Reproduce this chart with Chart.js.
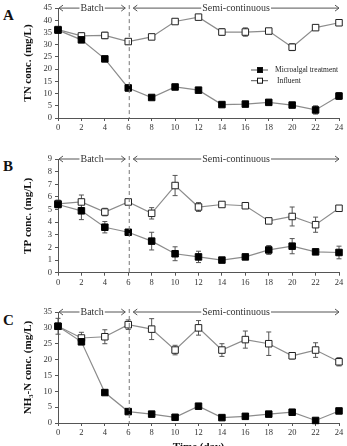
<!DOCTYPE html>
<html>
<head>
<meta charset="utf-8">
<script src="https://cdn.jsdelivr.net/npm/chart.js@4.4.1/dist/chart.umd.min.js"></script>
<style>
html, body { margin: 0; padding: 0; width: 347px; height: 446px; overflow: hidden; background: #fff; }
.panel { position: absolute; left: 0; width: 347px; }
.letter { position: absolute; left: 3px; font: bold 15px "Liberation Serif", serif; color: #111; }
</style>
</head>
<body>
<div class="letter" style="top:7px">A</div>
<div class="letter" style="top:158px">B</div>
<div class="letter" style="top:312px">C</div>
<div class="panel" style="top:0px"><canvas id="tn" width="347" height="140"></canvas></div>
<div class="panel" style="top:148px"><canvas id="tp" width="347" height="140"></canvas></div>
<div class="panel" style="top:295px"><canvas id="nh" width="347" height="160"></canvas></div>
<script>
// sampling days
const days = [0, 2, 4, 6, 8, 10, 12, 14, 16, 18, 20, 22, 24]

// phases of the run
const phaseNames = ['Batch', 'Semi-continuous']
const phaseBounds = [0, 6, 24]

// TN (mg/L)
const tnMicro = [36, 32, 24.2, 12.3, 8.4, 12.7, 11.4, 5.5, 5.7, 6.4, 5.3, 3.3, 9.0]
const tnMicroErr = [0.5, 0.8, 0.5, 1.2, 0.5, 0.6, 0.8, 0.5, 0.5, 0.9, 0.6, 1.7, 1.4]
const tnInfl = [36.2, 33.6, 33.8, 31.3, 33.2, 39.5, 41.3, 35.2, 35.2, 35.6, 29.0, 37.0, 39.0]
const tnInflErr = [0.5, 1.2, 1.3, 1.0, 0.5, 0.5, 0.8, 1.3, 1.7, 0.5, 1.4, 0.5, 0.5]

// TP (mg/L)
const tpMicro = [5.4, 4.9, 3.6, 3.2, 2.5, 1.5, 1.25, 1.0, 1.25, 1.8, 2.1, 1.65, 1.6]
const tpMicroErr = [0.1, 0.7, 0.45, 0.08, 0.7, 0.55, 0.45, 0.05, 0.08, 0.35, 0.6, 0.1, 0.5]
const tpInfl = [5.45, 5.6, 4.8, 5.6, 4.7, 6.9, 5.2, 5.4, 5.3, 4.1, 4.45, 3.8, 5.1]
const tpInflErr = [0.3, 0.55, 0.3, 0.2, 0.45, 0.8, 0.35, 0.05, 0.2, 0.15, 0.75, 0.6, 0.2]

// NH3-N (mg/L)
const nhMicro = [30.5, 25.6, 9.6, 3.6, 2.8, 1.8, 5.3, 1.7, 2.1, 2.8, 3.4, 0.8, 3.8]
const nhMicroErr = [0.5, 0.5, 0.7, 0.5, 0.3, 0.3, 0.3, 0.3, 0.8, 0.5, 0.3, 0.3, 0.3]
const nhInfl = [30.5, 26.8, 27.2, 31.0, 29.6, 23.0, 30.0, 23.0, 26.3, 25.0, 21.2, 23.0, 19.3]
const nhInflErr = [2.5, 1.8, 2.2, 1.5, 3.3, 1.5, 2.3, 2.0, 2.7, 3.7, 1.0, 2.3, 1.3]

const seriesNames = ['Microalgal treatment', 'Influent']

const FONT = '"Liberation Serif", "Times New Roman", serif'

// draws symmetric error bars under the markers
const errorBars = {
    id: 'errorBars',
    beforeDatasetsDraw(chart) {
        const ctx = chart.ctx
        const y = chart.scales.y
        ctx.save()
        ctx.strokeStyle = '#555'
        ctx.lineWidth = 1
        chart.data.datasets.forEach((ds, i) => {
            const meta = chart.getDatasetMeta(i)
            meta.data.forEach((pt, j) => {
                const v = ds.data[j].y, e = ds.errors[j]
                const top = y.getPixelForValue(v + e), bot = y.getPixelForValue(v - e)
                ctx.beginPath()
                ctx.moveTo(pt.x, top); ctx.lineTo(pt.x, bot)
                ctx.moveTo(pt.x - 2.5, top); ctx.lineTo(pt.x + 2.5, top)
                ctx.moveTo(pt.x - 2.5, bot); ctx.lineTo(pt.x + 2.5, bot)
                ctx.stroke()
            })
        })
        ctx.restore()
    }
}

// batch / semi-continuous arrows and dashed divider
const phases = {
    id: 'phases',
    afterDraw(chart) {
        const ctx = chart.ctx
        const x = chart.scales.x
        const area = chart.chartArea
        const yl = area.top
        ctx.save()
        ctx.strokeStyle = '#777'
        ctx.lineWidth = 1
        ctx.setLineDash([4, 3])
        const xd = x.getPixelForValue(phaseBounds[1]) + 1
        ctx.beginPath(); ctx.moveTo(xd, yl - 3); ctx.lineTo(xd, area.bottom); ctx.stroke()
        ctx.setLineDash([])
        ctx.strokeStyle = '#555'
        ctx.font = '10px ' + FONT
        ctx.textAlign = 'center'
        ctx.textBaseline = 'middle'
        for (let i = 0; i < phaseNames.length; i++) {
            const x0 = x.getPixelForValue(phaseBounds[i]) + (i ? 5 : 1)
            const x1 = x.getPixelForValue(phaseBounds[i + 1]) - (i ? 0 : 3)
            ctx.beginPath()
            ctx.moveTo(x0, yl); ctx.lineTo(x1, yl)
            ctx.moveTo(x0 + 4, yl - 3); ctx.lineTo(x0, yl); ctx.lineTo(x0 + 4, yl + 3)
            ctx.moveTo(x1 - 4, yl - 3); ctx.lineTo(x1, yl); ctx.lineTo(x1 - 4, yl + 3)
            ctx.stroke()
            const xc = (x0 + x1) / 2
            const w = ctx.measureText(phaseNames[i]).width
            ctx.fillStyle = '#fff'
            ctx.fillRect(xc - w / 2 - 1, yl - 5, w + 2, 10)
            ctx.fillStyle = '#333'
            ctx.fillText(phaseNames[i], xc, yl + 0.5)
        }
        ctx.restore()
    }
}

// legend drawn inside panel A
const innerLegend = {
    id: 'innerLegend',
    afterDraw(chart, args, opts) {
        if (!opts.show) return
        const ctx = chart.ctx
        ctx.save()
        ctx.font = '7.5px ' + FONT
        ctx.textBaseline = 'middle'
        chart.data.datasets.forEach((ds, i) => {
            const yy = 70 + i * 10.7
            ctx.strokeStyle = '#555'
            ctx.lineWidth = 1
            ctx.beginPath(); ctx.moveTo(251, yy); ctx.lineTo(268, yy); ctx.stroke()
            ctx.fillStyle = ds.pointBackgroundColor
            ctx.fillRect(257, yy - 3, 6, 6)
            ctx.strokeStyle = '#111'
            ctx.strokeRect(257.5, yy - 2.5, 5, 5)
            ctx.fillStyle = '#222'
            ctx.fillText(ds.label, 275 + (i ? 2 : 0), yy)
        })
        ctx.restore()
    }
}

function makePanel(id, yTitle, yMax, yStep, micro, microErr, infl, inflErr, padTop, xHeight, legend, xTitle) {
    const pts = vals => vals.map((v, i) => ({ x: days[i], y: v }))
    return new Chart(document.getElementById(id), {
        type: 'line',
        data: {
            datasets: [
                {
                    label: seriesNames[0],
                    data: pts(micro),
                    errors: microErr,
                    borderColor: '#8c8c8c',
                    borderWidth: 1.2,
                    pointStyle: 'rect',
                    pointRadius: 4.6,
                    pointBackgroundColor: '#000',
                    pointBorderColor: '#000',
                    pointBorderWidth: 1,
                    tension: 0,
                    clip: false
                },
                {
                    label: seriesNames[1],
                    data: pts(infl),
                    errors: inflErr,
                    borderColor: '#8c8c8c',
                    borderWidth: 1.2,
                    pointStyle: 'rect',
                    pointRadius: 4.6,
                    pointBackgroundColor: '#fff',
                    pointBorderColor: '#222',
                    pointBorderWidth: 1,
                    tension: 0,
                    clip: false
                }
            ]
        },
        options: {
            responsive: false,
            animation: false,
            layout: { padding: { top: padTop, left: 18, right: 8, bottom: 0 } },
            plugins: {
                legend: { display: false },
                tooltip: { enabled: false },
                innerLegend: { show: legend }
            },
            scales: {
                x: {
                    type: 'linear',
                    min: 0,
                    max: 24,
                    ticks: { stepSize: 2, autoSkip: false, maxRotation: 0, color: '#333', padding: 2, font: { family: FONT, size: 8.5 } },
                    grid: { drawOnChartArea: false, tickLength: 3, color: '#555' },
                    border: { color: '#555' },
                    title: {
                        display: !!xTitle,
                        text: xTitle || '',
                        color: '#111',
                        padding: { top: 0, bottom: 1.4 },
                        font: { family: FONT, size: 11, weight: 'bold' }
                    },
                    afterFit: s => { s.height = xHeight }
                },
                y: {
                    min: 0,
                    max: yMax,
                    ticks: { stepSize: yStep, autoSkip: false, color: '#333', padding: 3, font: { family: FONT, size: 8.5 } },
                    grid: { drawOnChartArea: false, tickLength: 3, color: '#555' },
                    border: { color: '#555' },
                    title: {
                        display: true,
                        text: yTitle,
                        color: '#111',
                        font: { family: FONT, size: 11, weight: 'bold' }
                    },
                    afterFit: s => { s.width = 40 }
                }
            }
        },
        plugins: [errorBars, phases, innerLegend]
    })
}

makePanel('tn', 'TN conc. (mg/L)', 45, 5, tnMicro, tnMicroErr, tnInfl, tnInflErr, 6, 22, true, null)
makePanel('tp', 'TP conc. (mg/L)', 9, 1, tpMicro, tpMicroErr, tpInfl, tpInflErr, 11, 15.3, false, null)
makePanel('nh', 'NH\u2083-N conc. (mg/L)', 35, 5, nhMicro, nhMicroErr, nhInfl, nhInflErr, 17, 32, false, 'Time (day)')
</script>
</body>
</html>
